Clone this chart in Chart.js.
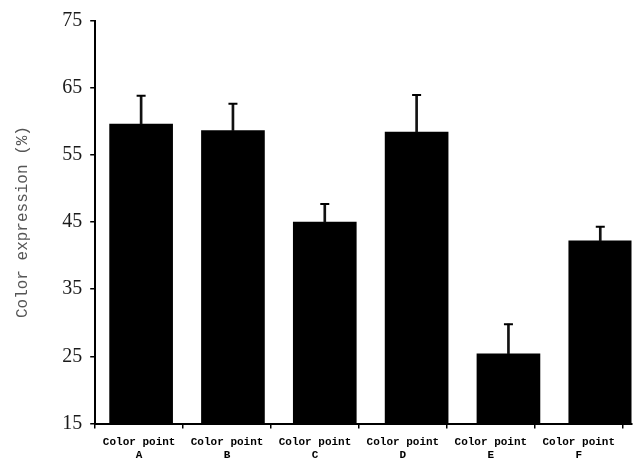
<!DOCTYPE html>
<html>
<head>
<meta charset="utf-8">
<script src="https://cdn.jsdelivr.net/npm/chart.js@4/dist/chart.umd.min.js"></script>
<style>
  html, body { margin: 0; padding: 0; background: #fff; overflow: hidden; }
  canvas { display: block; }
</style>
</head>
<body>
<canvas id="c" width="638" height="468"></canvas>
<script>
const categories = ['A', 'B', 'C', 'D', 'E', 'F'];
const categoryPrefix = 'Color point';
const meanValues = [59.6, 58.6, 45.0, 58.4, 25.4, 42.2];
const errorValues = [4.2, 4.0, 2.7, 5.5, 4.4, 2.1];
const yTicks = [15, 25, 35, 45, 55, 65, 75];
const yTitle = 'Color expression (%)';

const barData = meanValues.map((v, i) => ({ x: i, y: v }));
const errData = meanValues.map((v, i) => ({ x: i, y: [v, v + errorValues[i]] }));
const capData = meanValues.map((v, i) => ({ x: i, y: v + errorValues[i] }));

new Chart(document.getElementById('c'), {
  type: 'bar',
  data: {
    datasets: [
      {
        type: 'line',
        data: capData,
        xAxisID: 'xb',
        showLine: false,
        pointStyle: 'line',
        pointRadius: 4.5,
        pointBorderWidth: 2,
        pointBorderColor: '#000',
        pointBackgroundColor: '#000',
        order: 0
      },
      {
        data: errData,
        xAxisID: 'xb',
        backgroundColor: '#111',
        barThickness: 2,
        grouped: false,
        order: 1
      },
      {
        data: barData,
        xAxisID: 'xb',
        backgroundColor: '#000',
        barThickness: 63,
        grouped: false,
        order: 2
      }
    ]
  },
  options: {
    responsive: false,
    animation: false,
    layout: { padding: { left: 9, top: 20.5, right: 0, bottom: -1 } },
    plugins: { legend: { display: false }, tooltip: { enabled: false } },
    scales: {
      xb: {
        type: 'linear',
        display: false,
        offset: false,
        min: -0.5,
        max: 5.34
      },
      x: {
        type: 'linear',
        position: 'bottom',
        offset: false,
        min: -0.5,
        max: 5.6,
        afterBuildTicks: (s) => { s.ticks = categories.map((c, i) => ({ value: i })); },
        ticks: {
          autoSkip: false,
          maxRotation: 0,
          padding: 7,
          color: '#000',
          font: { family: 'Liberation Mono', size: 11, weight: 'bold', lineHeight: 1.2 },
          callback: (v) => [categoryPrefix, categories[v]]
        },
        grid: { offset: true, drawOnChartArea: false, drawTicks: true, tickLength: 5, color: '#000', lineWidth: 1.5 },
        border: { display: true, color: '#000', width: 2 }
      },
      y: {
        min: 15,
        max: 75,
        afterBuildTicks: (s) => { s.ticks = yTicks.map(v => ({ value: v })); },
        ticks: {
          padding: 8,
          color: '#1a1a1a',
          font: { family: 'Liberation Serif', size: 20 }
        },
        grid: { drawOnChartArea: false, drawTicks: true, tickLength: 5, color: '#000', lineWidth: 1.5 },
        border: { display: true, color: '#000', width: 2 },
        title: {
          display: true,
          text: yTitle,
          color: '#555',
          font: { family: 'Liberation Mono', size: 16, weight: 'normal' },
          padding: { top: 4, bottom: 22 }
        }
      }
    }
  }
});
</script>
</body>
</html>
